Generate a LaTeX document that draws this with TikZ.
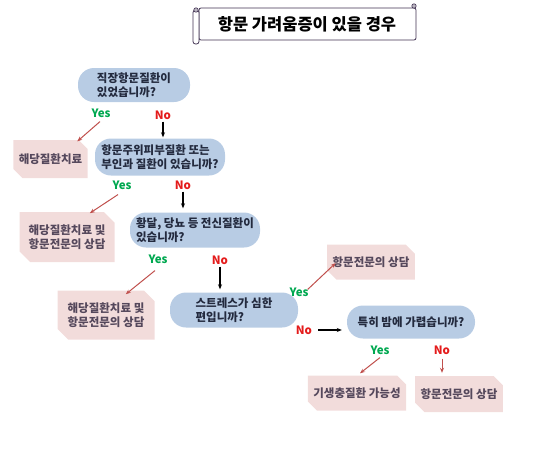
\documentclass[tikz,border=0pt]{standalone}
\usepackage{fontspec}
\setmainfont{Noto Sans CJK KR}
\usetikzlibrary{shapes.misc,arrows.meta}

\definecolor{qblue}{RGB}{184,204,228}
\definecolor{qtext}{RGB}{35,42,62}
\definecolor{apink}{RGB}{242,220,219}
\definecolor{atext}{RGB}{85,72,92}
\definecolor{yesgreen}{RGB}{0,168,80}
\definecolor{nored}{RGB}{228,28,28}
\definecolor{arrred}{RGB}{192,80,77}
\definecolor{scrollc}{RGB}{64,49,81}

\tikzset{
    question/.style={rectangle, rounded corners=16pt, fill=qblue, inner sep=0pt,
        align=left, text=qtext, font=\fontsize{11.5}{13.5}\selectfont\bfseries},
    answer/.style={chamfered rectangle, chamfered rectangle corners={north east,south west},
        chamfered rectangle xsep=7pt, fill=apink, inner sep=0pt,
        align=left, text=atext, font=\fontsize{11.5}{14}\selectfont\bfseries},
    lbl/.style={inner sep=1pt, font=\fontsize{11.5}{13}\selectfont\bfseries},
    yesarr/.style={arrred, line width=1pt, -{Stealth[length=5pt,width=4pt]}},
    noarr/.style={black, line width=1.2pt, -{Stealth[length=5pt,width=4pt]}}
}

\begin{document}
\begin{tikzpicture}[x=1pt,y=-1pt]
    \useasboundingbox (0,0) rectangle (550,451);

    % title scroll
    \draw[scrollc, fill=white, line width=0.8pt, rounded corners=2pt] (199,8) rectangle (416,40);
    \draw[scrollc, fill=white, line width=0.8pt, rounded corners=2.5pt] (193,10) rectangle (199,44);
    \filldraw[scrollc, fill=scrollc!35, line width=0.6pt] (196,10) circle (2.2) (414,6) circle (2.2);
    \node[font=\fontsize{16.5}{18}\selectfont\bfseries] (title) at (307,24) {항문 가려움증이 있을 경우};

    % questions
    \node[question, minimum width=112pt, minimum height=34pt] (q1) at (134,85) {직장항문질환이\\있었습니까?};
    \node[question, minimum width=130pt, minimum height=37pt] (q2) at (160,157) {항문주위피부질환 또는\\부인과 질환이 있습니까?};
    \node[question, minimum width=130pt, minimum height=35pt] (q3) at (195,230) {황달, 당뇨 등 전신질환이\\있습니까?};
    \node[question, minimum width=128pt, minimum height=35pt] (q4) at (234,310) {스트레스가 심한\\편입니까?};
    \node[question, minimum width=128pt, minimum height=33pt] (q5) at (411,322) {특히 밤에 가렵습니까?};

    % answers
    \node[answer, minimum width=71pt, minimum height=38pt] (a1) at (50.5,159) {해당질환치료};
    \node[answer, minimum width=95pt, minimum height=50pt] (a2) at (67,237) {해당질환치료 및\\항문전문의 상담};
    \node[answer, minimum width=97pt, minimum height=49pt] (a3) at (106,315) {해당질환치료 및\\항문전문의 상담};
    \node[answer, minimum width=83pt, minimum height=35pt] (a4) at (371,262) {항문전문의 상담};
    \node[answer, minimum width=95pt, minimum height=35pt] (a5) at (357,393) {기생충질환 가능성};
    \node[answer, minimum width=82pt, minimum height=36pt] (a6) at (459,394) {항문전문의 상담};

    % yes / no labels
    \foreach \n/\x/\y/\t/\c in {y1/101/113/Yes/yesgreen, n1/163/115/No/nored,
                                y2/122/185/Yes/yesgreen, n2/183/185/No/nored,
                                y3/158/259/Yes/yesgreen, n3/220/260/No/nored,
                                y4/299/292/Yes/yesgreen, n4/304/330/No/nored,
                                y5/380/350/Yes/yesgreen, n5/442/350/No/nored}
        \node[lbl, text=\c] (\n) at (\x,\y) {\t};

    % arrows
    \draw[yesarr] ([shift={(-1,3)}]y1.south) -- ([shift={(-6,-3)}]a1.north east);
    \draw[yesarr] ([shift={(-4,4)}]y2.south) -- ([shift={(-19.5,-4)}]a2.north east);
    \draw[yesarr] ([shift={(-3,6)}]y3.south) -- ([shift={(-23.5,-1.5)}]a3.north east);
    \draw[yesarr] ([shift={(-2,3)}]y4.north east) -- ([shift={(4,-12)}]a4.south west);
    \draw[yesarr] ([shift={(0,2)}]y5.south) -- ([shift={(3,-2)}]a5.north);
    \draw[yesarr, shorten <=3pt, shorten >=3pt] (n5.south) -- (n5.south |- a6.north);

    \draw[noarr, shorten <=1pt, shorten >=1pt] (n1.south) -- (n1.south |- q2.north);
    \draw[noarr, shorten <=1pt, shorten >=4pt] (n2.south) -- (n2.south |- q3.north);
    \draw[noarr, shorten <=1pt, shorten >=3pt] (n3.south) -- (n3.south |- q4.north);
    \draw[noarr, shorten <=5pt, shorten >=5pt] (n4.east) -- (n4.east -| q5.west);
\end{tikzpicture}
\end{document}
